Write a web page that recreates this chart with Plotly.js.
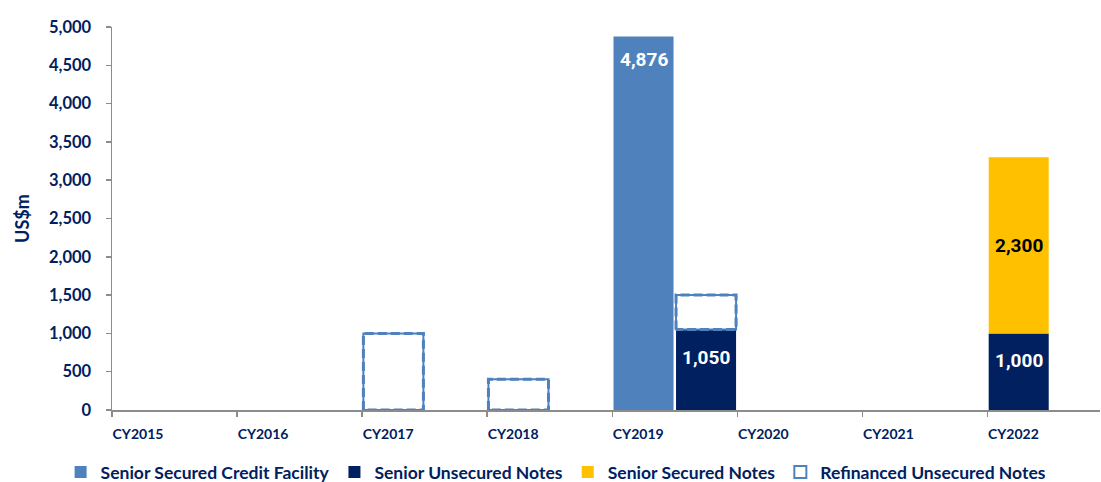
<!DOCTYPE html>
<html>
<head>
<meta charset="utf-8">
<script src="https://cdn.plot.ly/plotly-3.0.1.min.js"></script>
<style>
  html, body { margin: 0; padding: 0; background: #ffffff; }
  #chart { width: 1101px; height: 482px; }
</style>
</head>
<body>
<div id="chart"></div>
<script>
// ---- Data ----
const categories = ['CY2015', 'CY2016', 'CY2017', 'CY2018', 'CY2019', 'CY2020', 'CY2021', 'CY2022'];
const seriesNames = ['Senior Secured Credit Facility', 'Senior Unsecured Notes', 'Senior Secured Notes', 'Refinanced Unsecured Notes'];
const creditFacility = [null, null, null, null, 4876, null, null, null];
const unsecuredNotes = [null, null, null, null, 1050, null, null, 1000];
const securedNotes   = [null, null, null, null, null, null, null, 2300];
const refinancedNotes = [null, null, 1000, 400, 450, null, null, null];
// which of the two bar slots inside each year a series occupies
const creditSlot     = [0, 0, 0, 0, 0, 0, 0, 0];
const unsecuredSlot  = [0, 0, 0, 0, 1, 0, 0, 0];
const securedSlot    = [0, 0, 0, 0, 0, 0, 0, 0];
const refinancedSlot = [0, 0, 0, 0, 1, 0, 0, 0];
const yTicks = [0, 500, 1000, 1500, 2000, 2500, 3000, 3500, 4000, 4500, 5000];

// ---- Styling ----
const NAVY_TEXT = '#002060';
const C_BLUE = '#4F81BD';
const C_NAVY = '#002060';
const C_GOLD = '#FFC000';
const AXIS_GRAY = '#8C8C8C';
const BAR_W = 0.48;
const SLOT_OFF = [0.01, 0.51];
const FONT = 'Lato, "Open Sans", sans-serif';
const LABEL_FONT = 'Roboto, "Liberation Sans", sans-serif';

const idx = categories.map((c, i) => i);
const offs = s => s.map(v => SLOT_OFF[v]);
const zeroIfNull = arr => arr.map(v => (v == null ? 0 : v));
const fmt = v => v.toLocaleString('en-US');

const traces = [];

traces.push({
  type: 'bar', name: seriesNames[0], x: idx, y: creditFacility,
  offset: offs(creditSlot), width: BAR_W,
  marker: { color: C_BLUE, line: { width: 0 } }, hoverinfo: 'name+y'
});
traces.push({
  type: 'bar', name: seriesNames[1], x: idx, y: unsecuredNotes,
  offset: offs(unsecuredSlot), width: BAR_W,
  marker: { color: C_NAVY, line: { width: 0 } }, hoverinfo: 'name+y'
});
traces.push({
  type: 'bar', name: seriesNames[2], x: idx, y: securedNotes,
  base: zeroIfNull(unsecuredNotes),
  offset: offs(securedSlot), width: BAR_W,
  marker: { color: C_GOLD, line: { width: 0 } }, hoverinfo: 'name+y'
});
// refinanced: transparent bars (for hover/legend) + dashed outlines
const refBase = zeroIfNull(unsecuredNotes).map((b, i) => refinancedNotes[i] == null ? 0 : b);
traces.push({
  type: 'bar', name: seriesNames[3], x: idx, y: refinancedNotes,
  base: refBase, offset: offs(refinancedSlot), width: BAR_W,
  marker: { color: 'rgba(255,255,255,0)', line: { color: C_BLUE, width: 2 } },
  hoverinfo: 'name+y', legendgroup: 'ref'
});
// outline path
const ox = [], oy = [];
refinancedNotes.forEach((v, i) => {
  if (v == null) return;
  const x0 = i + SLOT_OFF[refinancedSlot[i]], x1 = x0 + BAR_W;
  const b = refBase[i], t = b + v;
  ox.push(x0, x0, x1, x1, x0, null);
  oy.push(b, t, t, b, b, null);
});
traces.push({
  type: 'scatter', mode: 'lines', x: ox, y: oy, showlegend: false,
  legendgroup: 'ref', hoverinfo: 'skip', cliponaxis: false,
  line: { color: C_BLUE, width: 3, dash: '9px,4px' }
});

// ---- data labels ----
const annotations = [];
const labelFont = c => ({ family: LABEL_FONT, size: 19, color: c, weight: 'bold' });
creditFacility.forEach((v, i) => {
  if (v == null) return;
  annotations.push({ x: i + SLOT_OFF[creditSlot[i]] + BAR_W / 2, y: v, yanchor: 'top', yshift: -9,
    text: fmt(v), showarrow: false, font: labelFont('#FFFFFF') });
});
unsecuredNotes.forEach((v, i) => {
  if (v == null) return;
  annotations.push({ x: i + SLOT_OFF[unsecuredSlot[i]] + BAR_W / 2, y: v, yanchor: 'top', yshift: -14,
    text: fmt(v), showarrow: false, font: labelFont('#FFFFFF') });
});
securedNotes.forEach((v, i) => {
  if (v == null) return;
  const b = unsecuredNotes[i] || 0;
  annotations.push({ x: i + SLOT_OFF[securedSlot[i]] + BAR_W / 2, y: b + v / 2, yanchor: 'middle',
    text: fmt(v), showarrow: false, font: labelFont('#000000') });
});

const layout = {
  width: 1101, height: 482,
  margin: { l: 112, r: 1, t: 27, b: 72, autoexpand: false },
  paper_bgcolor: '#ffffff', plot_bgcolor: '#ffffff',
  barmode: 'overlay',
  showlegend: true,
  legend: {
    orientation: 'h', x: -0.052, xanchor: 'left', y: -0.162, yanchor: 'middle',
    font: { family: FONT, size: 17.5, color: NAVY_TEXT, weight: 'bold' },
    traceorder: 'normal', itemclick: false, itemdoubleclick: false
  },
  xaxis: {
    type: 'linear', range: [0, 7.9],
    tickmode: 'array', tickvals: idx, ticktext: categories,
    ticklabelshift: 26, ticklabelstandoff: 6,
    ticks: 'outside', ticklen: 5, tickcolor: AXIS_GRAY, tickwidth: 1.5,
    showline: true, linecolor: AXIS_GRAY, linewidth: 1.5,
    showgrid: false, zeroline: false, fixedrange: true,
    tickfont: { family: FONT, size: 14, color: NAVY_TEXT, weight: 'bold' }
  },
  yaxis: {
    range: [0, 5000],
    tickmode: 'array', tickvals: yTicks, ticktext: yTicks.map(fmt),
    ticks: 'outside', ticklen: 5, tickcolor: AXIS_GRAY, tickwidth: 1.5,
    ticklabelstandoff: 11,
    showline: true, linecolor: AXIS_GRAY, linewidth: 1.5,
    showgrid: false, zeroline: false, fixedrange: true,
    tickfont: { family: FONT, size: 16.5, color: NAVY_TEXT, weight: 'bold' },
    title: { text: 'US$m', standoff: 14, font: { family: FONT, size: 18, color: NAVY_TEXT, weight: 'bold' } }
  },
  annotations: annotations
};

Plotly.newPlot('chart', traces, layout, { displayModeBar: false, staticPlot: true });
</script>
</body>
</html>
